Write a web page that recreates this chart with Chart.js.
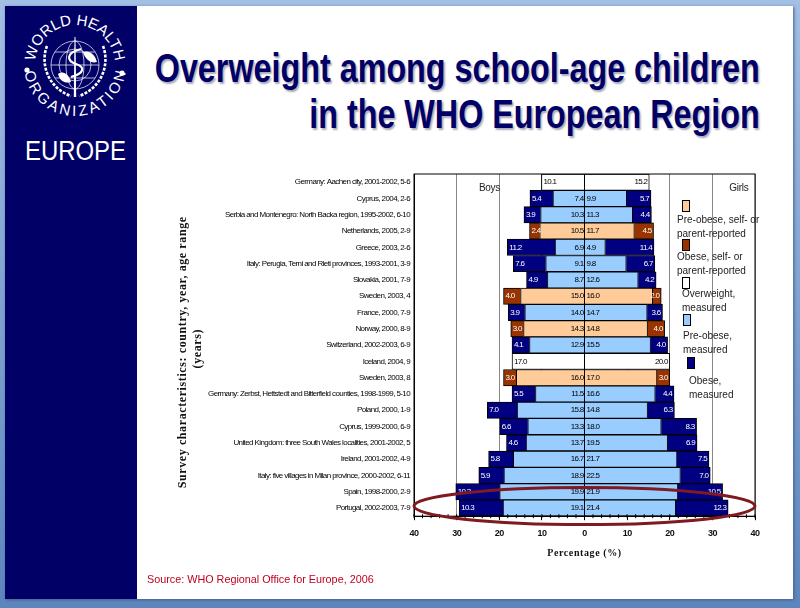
<!DOCTYPE html>
<html>
<head>
<meta charset="utf-8">
<script src="https://cdn.jsdelivr.net/npm/chart.js@4"></script>
<style>
    html, body { margin: 0; padding: 0; background: #fff; overflow: hidden; }
    #slide { position: relative; width: 800px; height: 608px; overflow: hidden;
        background: linear-gradient(#a3bfe4, #5d85bd); }
    #panel { position: absolute; left: 5px; top: 6px; width: 788px; height: 593px; background: #fff;
        box-shadow: 1px 1px 3px #44608c; }
    #sidebar { position: absolute; left: 5px; top: 6px; width: 132px; height: 593px; background: #000066; }
    #logo { position: absolute; left: 5px; top: 6px; }
    .title { position: absolute; right: 40px; color: #000066; white-space: nowrap;
        font: bold 41px "Liberation Sans", sans-serif;
        transform: scaleX(0.788); transform-origin: right center;
        text-shadow: 2px 2px 2px #a9a9b8; }
    #source { position: absolute; left: 147px; top: 573px; color: #c00020; font: 10.8px "Liberation Sans", sans-serif; }
    #chart { position: absolute; left: 0; top: 0; }
    .legtext { position: absolute; font: 10px/14px "Liberation Sans", sans-serif; color: #222; white-space: nowrap; }
    .swatch { position: absolute; width: 6px; height: 10px; border: 1px solid #000; box-sizing: content-box; }
</style>
</head>
<body>
<div id="slide">
    <div id="panel"></div>
    <div id="sidebar"></div>
    <svg id="logo" width="132" height="170" viewBox="0 0 132 170">
        <defs>
            <path id="arcTop" d="M 30 59 A 40 40 0 0 1 110 59"/>
            <path id="arcBot" d="M 19 59 A 51 51 0 0 0 121 59"/>
        </defs>
        <text font-family="Liberation Sans" font-size="15" fill="#fff"><textPath href="#arcTop" startOffset="50%" text-anchor="middle">WORLD HEALTH</textPath></text>
        <text font-family="Liberation Sans" font-size="15" fill="#fff"><textPath href="#arcBot" startOffset="50%" text-anchor="middle" textLength="146">ORGANIZATION</textPath></text>
        <g fill="none" stroke="#fff" stroke-width="0.7">
            <circle cx="70" cy="59" r="24"/>
            <circle cx="70" cy="59" r="16"/>
            <ellipse cx="70" cy="59" rx="9" ry="24"/>
            <path d="M 46 59 H 94 M 50 46 H 90 M 50 72 H 90"/>
        </g>
        <path d="M 69.5 31 L 70.5 31 L 71.2 91 L 68.8 91 Z" fill="#fff"/>
        <path d="M 76 43 C 60 47 62 55 71 58 C 80 61 80 67 66 71" fill="none" stroke="#fff" stroke-width="2.2"/>
        <path d="M 53 68 C 58 64 64 68 66 76 C 60 78 55 75 53 68 Z M 78 46 C 84 44 90 48 92 56 C 86 58 80 53 78 46 Z" fill="#fff"/>
        <g fill="none" stroke="#fff" stroke-width="2.6" stroke-dasharray="3 1.4">
            <path d="M 42 40 C 35 58 43 82 66 90"/>
            <path d="M 98 40 C 105 58 97 82 74 90"/>
        </g>
        <circle cx="22" cy="64" r="2.6" fill="#fff"/>
        <circle cx="117" cy="67" r="2.6" fill="#fff"/>
        <text x="70.5" y="154" text-anchor="middle" font-family="Liberation Sans" font-size="27" textLength="101" lengthAdjust="spacingAndGlyphs" fill="#fff">EUROPE</text>
    </svg>
    <div class="title" style="top:45px">Overweight among school-age children</div>
    <div class="title" style="top:91px">in the WHO European Region</div>
    <canvas id="chart" width="800" height="608"></canvas>
    <div class="swatch" style="left:682px;top:200px;background:#ffcc99"></div>
    <div class="legtext" style="left:677px;top:213px">Pre-obese, self- or<br>parent-reported</div>
    <div class="swatch" style="left:682px;top:239px;background:#993300"></div>
    <div class="legtext" style="left:677px;top:250px">Obese, self- or<br>parent-reported</div>
    <div class="swatch" style="left:682px;top:277px;background:#ffffff"></div>
    <div class="legtext" style="left:682px;top:287px">Overweight,<br>measured</div>
    <div class="swatch" style="left:683px;top:314px;background:#99ccff"></div>
    <div class="legtext" style="left:683px;top:329px">Pre-obese,<br>measured</div>
    <div class="swatch" style="left:687px;top:357px;background:#000080"></div>
    <div class="legtext" style="left:689px;top:374px">Obese,<br>measured</div>
    <div id="source">Source: WHO Regional Office for Europe, 2006</div>
</div>
<script>
const surveys = [
    'Germany: Aachen city, 2001-2002, 5-6',
    'Cyprus, 2004, 2-6',
    'Serbia and Montenegro: North Backa region, 1995-2002, 6-10',
    'Netherlands, 2005, 2-9',
    'Greece, 2003, 2-6',
    'Italy: Perugia, Terni and Rieti provinces, 1993-2001, 3-9',
    'Slovakia, 2001, 7-9',
    'Sweden, 2003, 4',
    'France, 2000, 7-9',
    'Norway, 2000, 8-9',
    'Switzerland, 2002-2003, 6-9',
    'Iceland, 2004, 9',
    'Sweden, 2003, 8',
    'Germany: Zerbst, Hettstedt and Bitterfield counties, 1998-1999, 5-10',
    'Poland, 2000, 1-9',
    'Cyprus, 1999-2000, 6-9',
    'United Kingdom: three South Wales localities, 2001-2002, 5',
    'Ireland, 2001-2002, 4-9',
    'Italy: five villages in Milan province, 2000-2002, 6-11',
    'Spain, 1998-2000, 2-9',
    'Portugal, 2002-2003, 7-9'
];
// m = measured, s = self- or parent-reported, o = overweight only
const method = ['o','m','m','s','m','m','m','s','m','s','m','o','s','m','m','m','m','m','m','m','m'];
const boysInner = [10.1,7.4,10.3,10.5,6.9,9.1,8.7,15.0,14.0,14.3,12.9,17.0,16.0,11.5,15.8,13.3,13.7,16.7,18.9,19.9,19.1];
const boysObese = [0,5.4,3.9,2.4,11.2,7.6,4.9,4.0,3.9,3.0,4.1,0,3.0,5.5,7.0,6.6,4.6,5.8,5.9,10.3,10.3];
const girlsInner = [15.2,9.9,11.3,11.7,4.9,9.8,12.6,16.0,14.7,14.8,15.5,20.0,17.0,16.6,14.8,18.0,19.5,21.7,22.5,21.9,21.4];
const girlsObese = [0,5.7,4.4,4.5,11.4,6.7,4.2,2.0,3.6,4.0,4.0,0,3.0,4.4,6.3,8.3,6.9,7.5,7.0,10.5,12.3];
const xTicks = [-40,-30,-20,-10,0,10,20,30,40];

const innerColor = { o: '#ffffff', m: '#99ccff', s: '#ffcc99' };
const outerColor = { o: '#ffffff', m: '#000080', s: '#993300' };
const neg = arr => arr.map(v => -v);
const inner = method.map(m => innerColor[m]);
const outer = method.map(m => outerColor[m]);

// value labels: inner ones sit on the centre line, obese and overweight at the bar's outer end
const barLabels = {
    id: 'barLabels',
    afterDatasetsDraw(chart) {
        const c = chart.ctx;
        c.save();
        c.font = '8px "Liberation Sans", sans-serif';
        c.letterSpacing = '-0.7px';
        c.textBaseline = 'middle';
        chart.data.datasets.forEach((ds, i) => {
            const isOuter = i % 2 === 1;
            const isLeft = i < 2;
            chart.getDatasetMeta(i).data.forEach((bar, j) => {
                const v = Math.abs(ds.data[j]);
                if (!v) return;
                const txt = v.toFixed(1);
                const only = method[j] === 'o';
                if (isOuter) {
                    c.fillStyle = '#fff';
                    c.textAlign = isLeft ? 'left' : 'right';
                    c.fillText(txt, bar.x + (isLeft ? 2 : -2), bar.y);
                } else if (only) {
                    c.fillStyle = '#000';
                    c.textAlign = isLeft ? 'left' : 'right';
                    c.fillText(txt, bar.x + (isLeft ? 2 : -2), bar.y);
                } else {
                    c.fillStyle = '#000';
                    c.textAlign = isLeft ? 'right' : 'left';
                    c.fillText(txt, chart.scales.x.getPixelForValue(0) + (isLeft ? -1 : 2), bar.y);
                }
            });
        });
        c.restore();
    }
};

// frame, zero line, minor ticks, Boys / Girls captions, and the red ring round the last row
const extras = {
    id: 'extras',
    beforeDraw(chart) {
        // axis titles are spaced out in the picture
        chart.ctx.letterSpacing = '0.6px';
    },
    afterDatasetsDraw(chart) {
        const c = chart.ctx, x = chart.scales.x, y = chart.scales.y, a = chart.chartArea;
        c.save();
        c.strokeStyle = '#000';
        c.lineWidth = 1;
        c.strokeRect(a.left, a.top, a.right - a.left, a.bottom - a.top);
        c.beginPath();
        c.moveTo(x.getPixelForValue(0), a.top);
        c.lineTo(x.getPixelForValue(0), a.bottom);
        for (let v = -40; v <= 40; v += 2) {
            c.moveTo(x.getPixelForValue(v), a.bottom - 2);
            c.lineTo(x.getPixelForValue(v), a.bottom + 2);
        }
        c.stroke();
        c.fillStyle = '#222';
        c.font = '10px "Liberation Sans", sans-serif';
        c.letterSpacing = '-0.3px';
        c.textAlign = 'center';
        c.textBaseline = 'middle';
        c.fillText('Boys', x.getPixelForValue(-22.3), a.top + 14);
        c.fillText('Girls', x.getPixelForValue(36.2), a.top + 14);
        c.strokeStyle = '#7e1a20';
        c.lineWidth = 3;
        c.beginPath();
        c.ellipse(x.getPixelForValue(0), y.getPixelForValue(surveys.length - 1) - 2,
            (x.getPixelForValue(40) - x.getPixelForValue(-40)) / 2, 18.5, 0, 0, Math.PI * 2);
        c.stroke();
        c.restore();
        // the tick labels (z 1) are drawn after this and are squeezed
        c.letterSpacing = '-0.6px';
    },
    afterDraw(chart) {
        chart.ctx.letterSpacing = '0px';
    }
};

new Chart(document.getElementById('chart'), {
    type: 'bar',
    data: {
        labels: surveys,
        datasets: [
            { label: 'Boys', data: neg(boysInner), backgroundColor: inner },
            { label: 'Boys obese', data: neg(boysObese), backgroundColor: outer },
            { label: 'Girls', data: girlsInner, backgroundColor: inner },
            { label: 'Girls obese', data: girlsObese, backgroundColor: outer }
        ].map(ds => ({ ...ds, borderColor: '#000', borderWidth: 1, barPercentage: 1, categoryPercentage: 1 }))
    },
    options: {
        indexAxis: 'y',
        responsive: false,
        animation: false,
        layout: { padding: { left: 176, right: 45, top: 174, bottom: 49 } },
        plugins: { legend: { display: false }, tooltip: { enabled: false } },
        scales: {
            x: {
                stacked: true,
                min: -40,
                max: 40,
                afterBuildTicks: scale => { scale.ticks = xTicks.map(v => ({ value: v })); },
                ticks: {
                    autoSkip: false,
                    maxRotation: 0,
                    padding: 8,
                    z: 1,
                    color: '#111',
                    font: { size: 9, weight: 'bold', family: '"Liberation Sans", sans-serif' },
                    callback: v => Math.abs(v)
                },
                grid: { color: '#888', lineWidth: 1, drawTicks: true, tickLength: 4, tickColor: '#000' },
                border: { color: '#000' },
                title: {
                    display: true,
                    text: 'Percentage (%)',
                    color: '#111',
                    padding: { top: 0, bottom: 0 },
                    font: { size: 10, weight: 'bold', family: '"Liberation Serif", serif' }
                }
            },
            y: {
                stacked: true,
                afterFit: scale => { scale.width = 238; },
                ticks: {
                    autoSkip: false,
                    padding: 4,
                    z: 1,
                    color: '#000',
                    font: { size: 8, family: '"Liberation Sans", sans-serif' }
                },
                grid: { display: false, drawTicks: false },
                border: { color: '#000' },
                title: {
                    display: true,
                    // trailing spaces nudge the rotated text down the axis, as in the picture
                    text: ['Survey characteristics: country, year, age range    ', '(years)  '],
                    color: '#111',
                    padding: 0,
                    font: { size: 12, weight: 'bold', family: '"Liberation Serif", serif' }
                }
            }
        }
    },
    plugins: [barLabels, extras]
});
</script>
</body>
</html>
